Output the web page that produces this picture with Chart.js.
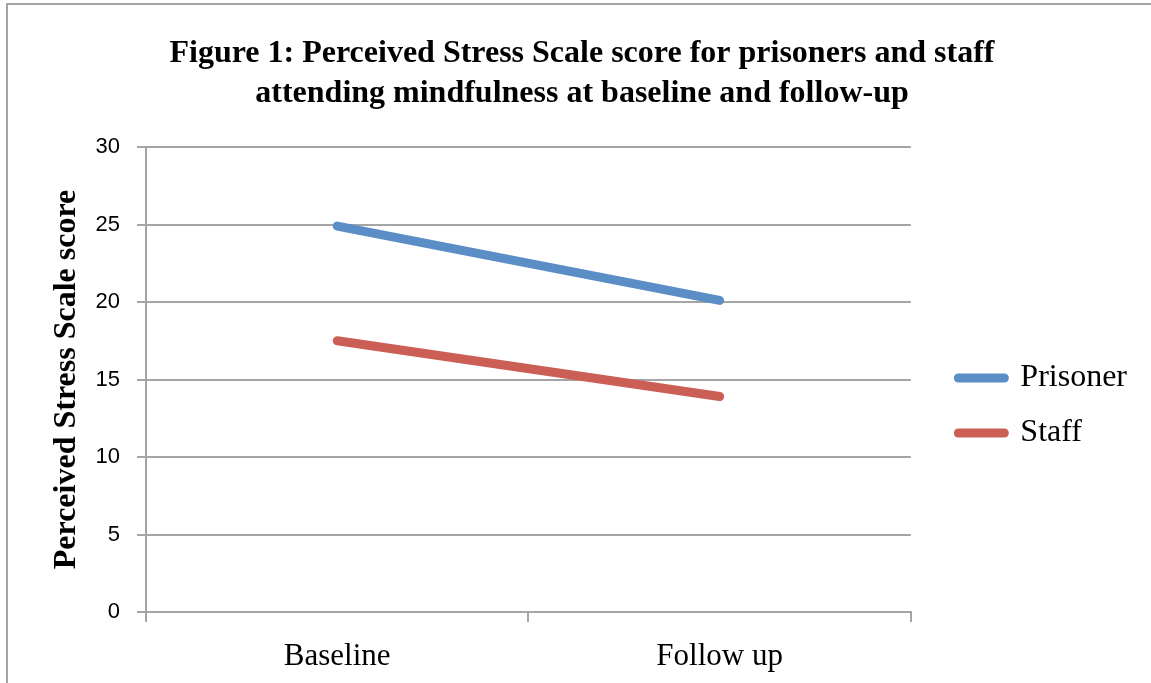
<!DOCTYPE html>
<html>
<head>
<meta charset="utf-8">
<script src="https://cdn.jsdelivr.net/npm/chart.js@4"></script>
<style>
  body { margin: 0; background: #fff; }
</style>
</head>
<body>
<canvas id="stressChart" width="1151" height="683"></canvas>
<script>
const categories = ["Baseline", "Follow up"];
const prisonerScores = [24.9, 20.1];
const staffScores = [17.5, 13.9];
const yMin = 0;
const yMax = 30;
const yStep = 5;

const gray = "#a5a5a5";

// grey frame on the top and left edge of the picture
const framePlugin = {
  id: "frame",
  beforeDraw(chart) {
    const c = chart.ctx;
    c.save();
    c.strokeStyle = gray;
    c.lineWidth = 2;
    c.beginPath();
    c.moveTo(7, chart.height);
    c.lineTo(7, 4);
    c.lineTo(chart.width, 4);
    c.stroke();
    c.restore();
  },
};

Chart.defaults.font.family = "'Liberation Serif', 'Times New Roman', serif";
Chart.defaults.color = "#000";

const ctx = document.getElementById("stressChart").getContext("2d");
new Chart(ctx, {
  type: "line",
  data: {
    labels: categories,
    datasets: [
      {
        label: "Prisoner",
        data: prisonerScores,
        borderColor: "#5b8ec7",
        backgroundColor: "#5b8ec7",
        borderWidth: 9,
        borderCapStyle: "round",
        pointRadius: 0,
        pointHoverRadius: 0,
      },
      {
        label: "Staff",
        data: staffScores,
        borderColor: "#cb5f56",
        backgroundColor: "#cb5f56",
        borderWidth: 9,
        borderCapStyle: "round",
        pointRadius: 0,
        pointHoverRadius: 0,
      },
    ],
  },
  options: {
    responsive: false,
    animation: false,
    layout: {
      padding: { left: 27, right: 14, top: 0, bottom: 0 },
    },
    plugins: {
      title: {
        display: true,
        text: [
          "Figure 1: Perceived Stress Scale score for prisoners and staff",
          "attending mindfulness at baseline and follow-up",
        ],
        font: { size: 32, weight: "bold", lineHeight: 40 / 32 },
        padding: { top: 34, bottom: 33 },
      },
      legend: {
        position: "right",
        fullSize: false,
        maxWidth: 260,
        title: { display: true, text: "", font: { size: 12, lineHeight: 1 }, padding: 20 },
        labels: {
          usePointStyle: true,
          pointStyle: "line",
          pointStyleWidth: 46,
          padding: 23,
          font: { size: 32 },
          generateLabels(chart) {
            const items = Chart.defaults.plugins.legend.labels.generateLabels(chart);
            items.forEach((it) => { it.lineCap = "round"; });
            return items;
          },
        },
      },
      tooltip: { enabled: false },
    },
    scales: {
      x: {
        offset: true,
        grid: {
          display: true,
          drawOnChartArea: false,
          offset: true,
          tickLength: 10,
          color: gray,
          lineWidth: 2,
        },
        border: { color: gray, width: 2 },
        ticks: { font: { size: 31 }, padding: 16 },
        afterFit(scale) {
          scale.height = 71;
        },
      },
      y: {
        min: yMin,
        max: yMax,
        grid: { color: gray, lineWidth: 2, tickLength: 9 },
        border: { color: gray, width: 2 },
        ticks: {
          stepSize: yStep,
          padding: 17,
          font: { family: "'Liberation Sans', Arial, sans-serif", size: 22 },
        },
        title: {
          display: true,
          text: "Perceived Stress Scale score",
          font: { size: 32, weight: "bold" },
          padding: { top: 21, bottom: 0 },
        },
        afterFit(scale) {
          scale.width = 119;
        },
      },
      // empty right axis, only keeps a gap before the legend
      gap: {
        position: "right",
        display: true,
        grid: { display: false },
        border: { display: false },
        ticks: { display: false },
        afterFit(scale) {
          scale.width = 24.5;
        },
      },
    },
  },
  plugins: [framePlugin],
});
</script>
</body>
</html>
